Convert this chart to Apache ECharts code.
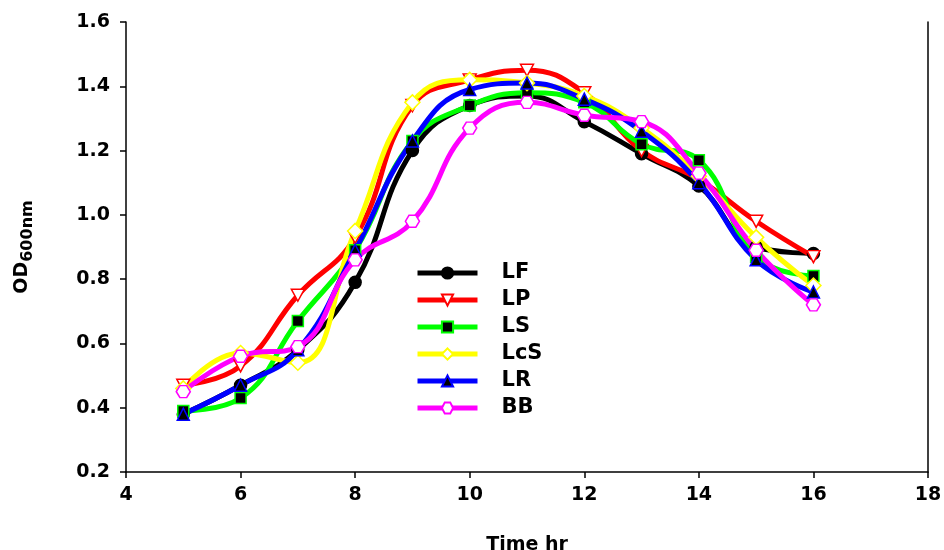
<!DOCTYPE html>
<html>
<head>
<meta charset="utf-8">
<script src="https://cdn.jsdelivr.net/npm/echarts@6/dist/echarts.min.js"></script>
<style>html,body{margin:0;padding:0;background:#fff;}#c{width:944px;height:550px;}</style>
</head>
<body>
<div id="c"></div>
<script>
const timeHr = [5, 6, 7, 8, 9, 10, 11, 12, 13, 14, 15, 16];
const LF  = [0.38, 0.47, 0.58, 0.79, 1.20, 1.34, 1.37, 1.29, 1.19, 1.09, 0.90, 0.88];
const LP  = [0.47, 0.53, 0.75, 0.93, 1.34, 1.42, 1.45, 1.38, 1.20, 1.11, 0.98, 0.87];
const LS  = [0.39, 0.43, 0.67, 0.89, 1.23, 1.34, 1.38, 1.35, 1.22, 1.17, 0.87, 0.81];
const LcS = [0.46, 0.57, 0.54, 0.95, 1.35, 1.42, 1.41, 1.37, 1.27, 1.12, 0.93, 0.78];
const LR  = [0.38, 0.47, 0.58, 0.89, 1.23, 1.39, 1.41, 1.36, 1.26, 1.10, 0.86, 0.76];
const BB  = [0.45, 0.56, 0.59, 0.86, 0.98, 1.27, 1.35, 1.31, 1.29, 1.13, 0.89, 0.72];
const yTicks = [0.2, 0.4, 0.6, 0.8, 1.0, 1.2, 1.4, 1.6];
const xTicks = [4, 6, 8, 10, 12, 14, 16, 18];

const FONT = 'DejaVu Sans';
const hexPath = 'path://M0,5 L2.6,0 L7.4,0 L10,5 L7.4,10 L2.6,10 Z';
const invTri = 'path://M0,0 L10,0 L5,9 Z';

function pairs(arr) { return timeHr.map((t, i) => [t, arr[i]]); }

function mk(name, data, color, symbol, size, fill, border) {
  return {
    name, type: 'line', data: pairs(data), smooth: 0.45,
    lineStyle: { color, width: 5 },
    itemStyle: { color: fill, borderColor: border, borderWidth: 1.5 },
    symbol, symbolSize: size, showSymbol: true,
    emphasis: { disabled: true }, z: 2
  };
}

const chart = echarts.init(document.getElementById('c'), null, { renderer: 'canvas' });
chart.setOption({
  animation: false,
  backgroundColor: '#fff',
  grid: { left: 126, right: 16, top: 22, bottom: 78, outerBoundsMode: 'none', containLabel: false },
  legend: {
    orient: 'vertical', left: 415, top: 262, padding: 0,
    itemWidth: 60, itemHeight: 14, itemGap: 5,
    lineStyle: { width: 5 },
    textStyle: { fontFamily: FONT, fontWeight: 'bold', fontSize: 21, color: '#000', lineHeight: 22, padding: [0, 0, 0, 19] },
    data: ['LF', 'LP', 'LS', 'LcS', 'LR', 'BB']
  },
  xAxis: {
    type: 'value', min: xTicks[0], max: xTicks[xTicks.length - 1], interval: 2,
    name: 'Time hr', nameLocation: 'middle', nameGap: 64,
    nameTextStyle: { fontFamily: FONT, fontWeight: 'bold', fontSize: 19, color: '#000' },
    axisLine: { show: true, lineStyle: { color: '#000', width: 1.5 } },
    axisTick: { show: true, inside: false, length: 6, lineStyle: { color: '#000', width: 1.5 } },
    axisLabel: { fontFamily: FONT, fontWeight: 'bold', fontSize: 19, color: '#000', margin: 14 },
    splitLine: { show: false }
  },
  yAxis: [{
    type: 'value', min: yTicks[0], max: yTicks[yTicks.length - 1], interval: 0.2,
    name: '{a|OD}{b|600nm}', nameLocation: 'middle', nameRotate: 90, nameGap: 90,
    nameTextStyle: {
      rich: {
        a: { fontFamily: FONT, fontWeight: 'bold', fontSize: 19, color: '#000' },
        b: { fontFamily: FONT, fontWeight: 'bold', fontSize: 16, color: '#000', padding: [12, 0, 0, 0] }
      }
    },
    axisLine: { show: true, lineStyle: { color: '#000', width: 1.5 } },
    axisTick: { show: true, inside: false, length: 6, lineStyle: { color: '#000', width: 1.5 } },
    axisLabel: { fontFamily: FONT, fontWeight: 'bold', fontSize: 19, color: '#000', margin: 16, formatter: v => v.toFixed(1) },
    splitLine: { show: false }
  }, {
    type: 'value', position: 'right', min: yTicks[0], max: yTicks[yTicks.length - 1], interval: 0.2,
    axisLine: { show: true, lineStyle: { color: '#000', width: 1.5 } },
    axisTick: { show: false }, axisLabel: { show: false }, splitLine: { show: false }
  }],
  series: [
    mk('LF', LF, '#000000', 'circle', 12, '#000000', '#000000'),
    mk('LP', LP, '#ff0000', invTri, [13, 12], '#ffffff', '#ff0000'),
    mk('LS', LS, '#00ff00', 'rect', 11, '#000000', '#00ff00'),
    mk('LcS', LcS, '#ffff00', 'diamond', 15, '#ffffff', '#ffff00'),
    mk('LR', LR, '#0000ff', 'triangle', 12, '#000000', '#0000ff'),
    mk('BB', BB, '#ff00ff', hexPath, [14, 12], '#ffffff', '#ff00ff')
  ]
});
</script>
</body>
</html>
